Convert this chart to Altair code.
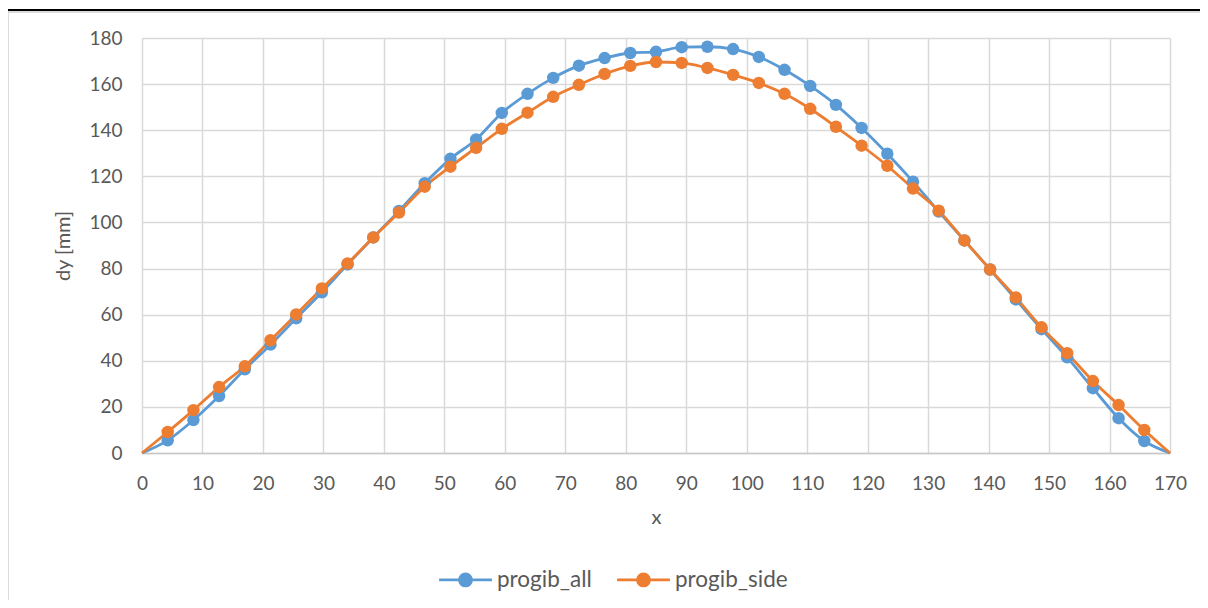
import altair as alt
import pandas as pd

x_vals = [0, 4.25, 8.5, 12.75, 17, 21.25, 25.5, 29.75, 34, 38.25, 42.5, 46.75, 51, 55.25,
          59.5, 63.75, 68, 72.25, 76.5, 80.75, 85, 89.25, 93.5, 97.75, 102, 106.25, 110.5,
          114.75, 119, 123.25, 127.5, 131.75, 136, 140.25, 144.5, 148.75, 153, 157.25,
          161.5, 165.75, 170]

progib_all = [0, 5.5, 14.3, 24.7, 36.3, 47.0, 58.4, 69.7, 81.8, 93.5, 105.0, 117.0, 127.6,
              136.0, 147.5, 155.8, 162.7, 168.0, 171.3, 173.5, 174.0, 176.0, 176.2, 175.2,
              171.8, 166.2, 159.2, 151.0, 141.0, 129.8, 117.7, 104.7, 92.2, 79.6, 66.6,
              53.7, 41.5, 28.1, 15.1, 5.2, 0]

progib_side = [0, 9.1, 18.6, 28.6, 37.6, 48.9, 60.1, 71.4, 82.2, 93.5, 104.3, 115.5, 124.2,
               132.4, 140.6, 147.6, 154.5, 159.7, 164.4, 167.9, 169.6, 169.2, 167.0, 164.0,
               160.5, 155.8, 149.3, 141.5, 133.3, 124.6, 114.7, 105.1, 92.2, 79.6, 67.5,
               54.5, 43.3, 31.2, 20.8, 10.0, 0]

series_names = ["progib_all", "progib_side"]
series_colors = ["#5B9BD5", "#ED7D31"]
x_ticks = list(range(0, 171, 10))
y_ticks = list(range(0, 181, 20))

rows = []
for name, vals in zip(series_names, [progib_all, progib_side]):
    for xv, yv in zip(x_vals, vals):
        rows.append({"x": xv, "dy": yv, "series": name})
df = pd.DataFrame(rows)

FONT = "Lato"
GREY = "#595959"

legend_path = ("M-2.2,0 L2.2,0 M-0.5,0 A0.5,0.5 0 1,1 0.5,0 "
               "A0.5,0.5 0 1,1 -0.5,0 Z")

x_enc = alt.X("x:Q",
              scale=alt.Scale(domain=[0, 170], nice=False, zero=True),
              axis=alt.Axis(values=x_ticks, title="x", labelPadding=21,
                            titlePadding=14, labelFlush=False, domain=True,
                            domainColor="#c8c8c8", domainWidth=1.5))
y_enc = alt.Y("dy:Q",
              scale=alt.Scale(domain=[0, 180], nice=False),
              axis=alt.Axis(values=y_ticks, title="dy [mm]", labelPadding=20,
                            titlePadding=15, domain=False))
color_enc = alt.Color("series:N",
                      scale=alt.Scale(domain=series_names, range=series_colors),
                      legend=alt.Legend(title=None, orient="none", direction="horizontal",
                                        legendX=310, legendY=528,
                                        symbolType=legend_path, symbolSize=576,
                                        symbolStrokeWidth=2.8, labelFontSize=22.5,
                                        labelFont=FONT, labelColor=GREY,
                                        labelOffset=18, columnPadding=19))

base = alt.Chart(df)

lines = base.mark_line(interpolate="monotone", strokeWidth=2.8).encode(
    x=x_enc, y=y_enc, color=color_enc, order=alt.Order("x:Q"))

points = base.mark_circle(size=155, opacity=1).encode(
    x=x_enc, y=y_enc, color=color_enc,
).transform_filter(
    (alt.datum.x > 0) & (alt.datum.x < 170)
)

frame_top = alt.Chart(pd.DataFrame({"k": [0]})).mark_rule(color="black", strokeWidth=2).encode(
    x=alt.value(-139), x2=alt.value(1070), y=alt.value(-28))
frame_left = alt.Chart(pd.DataFrame({"k": [0]})).mark_rule(color="#d0d0d0", strokeWidth=1.5).encode(
    x=alt.value(-134), y=alt.value(-26), y2=alt.value(600))
frame_top2 = alt.Chart(pd.DataFrame({"k": [0]})).mark_rule(color="#d0d0d0", strokeWidth=1.5).encode(
    x=alt.value(-134), x2=alt.value(1070), y=alt.value(-26))

chart = alt.layer(frame_top, frame_left, frame_top2, lines, points).properties(
    width=1028, height=415,
    autosize=alt.AutoSizeParams(type="none"),
    padding={"left": 134, "top": 30, "right": 30, "bottom": 147},
).configure_axis(
    labelFont=FONT, labelFontSize=19, labelColor=GREY,
    titleFont=FONT, titleFontSize=20, titleColor=GREY, titleFontWeight="normal",
    ticks=False, gridColor="#d9d9d9", gridWidth=1.5,
).configure_view(stroke=None)

chart.save("out.html", embed_options={"renderer": "svg", "actions": False})
